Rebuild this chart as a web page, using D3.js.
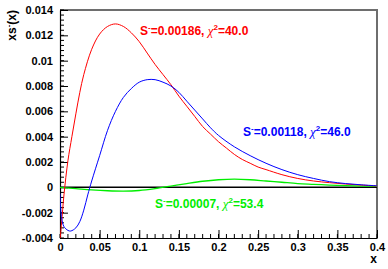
<!DOCTYPE html>
<html><head><meta charset="utf-8">
<script src="https://cdn.jsdelivr.net/npm/d3@7"></script>
<style>body{margin:0;background:#fff}svg{display:block}</style>
</head><body>
<script>
const xRed   = [0,0.002,0.005,0.01,0.015,0.02,0.025,0.03,0.04,0.05,0.06,0.07,0.08,0.09,0.10,0.11,0.12,0.13,0.14,0.15,0.16,0.17,0.18,0.19,0.20,0.21,0.22,0.23,0.24,0.25,0.26,0.28,0.30,0.32,0.34,0.36,0.38,0.40];
const yRed   = [-0.0042,-0.0028,-0.0006,0.0021,0.0040,0.0058,0.0075,0.0089,0.0109,0.0121,0.0127,0.0129,0.0127,0.0122,0.0115,0.0106,0.0097,0.0089,0.0081,0.0072,0.0064,0.0056,0.0048,0.0042,0.0036,0.0031,0.0026,0.0022,0.0019,0.0016,0.0014,0.0010,0.0007,0.0005,0.00037,0.00026,0.00018,0.0001];
const xBlue  = [0,0.002,0.005,0.01,0.0135,0.02,0.025,0.03,0.035,0.04,0.05,0.06,0.07,0.08,0.09,0.10,0.11,0.12,0.13,0.14,0.15,0.16,0.17,0.18,0.19,0.20,0.22,0.24,0.26,0.28,0.30,0.32,0.34,0.36,0.38,0.40];
const yBlue  = [-0.0005,-0.0024,-0.0031,-0.0034,-0.00345,-0.0032,-0.0027,-0.0018,-0.0006,0.0005,0.0025,0.0045,0.0060,0.0071,0.0078,0.0083,0.0085,0.0085,0.0083,0.0080,0.0075,0.0068,0.0061,0.0054,0.0047,0.0041,0.0032,0.0025,0.0019,0.0014,0.0010,0.0007,0.00045,0.0003,0.0002,0.00012];
const xGreen = [0,0.02,0.04,0.06,0.08,0.10,0.12,0.14,0.16,0.18,0.20,0.22,0.24,0.26,0.28,0.30,0.32,0.34,0.36,0.38,0.40];
const yGreen = [0,-0.0001,-0.0002,-0.00027,-0.0003,-0.00025,-0.0001,0.0001,0.0003,0.00048,0.0006,0.00065,0.0006,0.0005,0.0004,0.0003,0.00024,0.00018,0.00013,0.0001,0.00008];
const xTicks = [0,0.05,0.1,0.15,0.2,0.25,0.3,0.35,0.4];
const xTickLabels = ["0","0.05","0.1","0.15","0.2","0.25","0.3","0.35","0.4"];
const yTicks = [-0.004,-0.002,0,0.002,0.004,0.006,0.008,0.01,0.012,0.014];
const yTickLabels = ["-0.004","-0.002","0","0.002","0.004","0.006","0.008","0.01","0.012","0.014"];
const labels = [
  {s:"0.00186", c:"40.0", color:"#ff0000"},
  {s:"0.00118", c:"46.0", color:"#0000ff"},
  {s:"0.00007", c:"53.4", color:"#00ee00"}
];

const W=388,H=269, L=60,R=377,T=10,B=238;
const svg=d3.select("body").append("svg").attr("width",W).attr("height",H)
  .style("font-family","'Liberation Sans',Arial,Helvetica,sans-serif").style("font-weight","bold");
const x=d3.scaleLinear().domain([0,0.4]).range([L,R]);
const y=d3.scaleLinear().domain([-0.004,0.014]).range([B,T]);

svg.append("defs").append("clipPath").attr("id","clip").append("rect")
  .attr("x",L).attr("y",T).attr("width",R-L).attr("height",B-T);

svg.append("line").attr("x1",L).attr("x2",R+1).attr("y1",T).attr("y2",T).attr("stroke","#6e6e6e").attr("stroke-width",2);
svg.append("line").attr("x1",R).attr("x2",R).attr("y1",T).attr("y2",B).attr("stroke","#6e6e6e").attr("stroke-width",2);

const xMinor=d3.range(0,0.4001,0.01);
svg.append("g").selectAll("line").data(xMinor).join("line")
  .attr("x1",d=>x(d)).attr("x2",d=>x(d)).attr("y1",B).attr("y2",B-4).attr("stroke","#000");
const yMinor=d3.range(-0.004,0.01401,0.0004);
svg.append("g").selectAll("line").data(yMinor).join("line")
  .attr("x1",L).attr("x2",L+4).attr("y1",d=>y(d)).attr("y2",d=>y(d)).attr("stroke","#000");

const xAxis=d3.axisBottom(x).tickValues(xTicks).tickFormat((d,i)=>xTickLabels[i]).tickSizeInner(-8).tickSizeOuter(0).tickPadding(12);
const gx=svg.append("g").attr("transform",`translate(0,${B})`).call(xAxis);
const yAxis=d3.axisLeft(y).tickValues(yTicks).tickFormat((d,i)=>yTickLabels[i]).tickSizeInner(-8).tickSizeOuter(0).tickPadding(15);
const gy=svg.append("g").attr("transform",`translate(${L},0)`).call(yAxis);
[gx,gy].forEach(g=>{
  g.select(".domain").attr("stroke","#000").attr("stroke-width",1.2);
  g.selectAll(".tick line").attr("stroke","#000");
  g.selectAll(".tick text").attr("fill","#000").style("font-size","11px").style("font-family","'Liberation Sans',Arial,sans-serif").style("font-weight","bold");
});
gy.selectAll(".tick text").attr("x",-7);
gx.selectAll(".tick text").attr("y",5);

svg.append("line").attr("x1",L).attr("x2",R).attr("y1",y(0)).attr("y2",y(0)).attr("stroke","#000").attr("stroke-width",1.5);

const line=d3.line().x(d=>x(d[0])).y(d=>y(d[1])).curve(d3.curveCatmullRom.alpha(0.5));
const series=[[xGreen,yGreen,"#00ee00",1.3],[xRed,yRed,"#ff0000",1],[xBlue,yBlue,"#0000ff",1]];
const gc=svg.append("g").attr("clip-path","url(#clip)");
series.forEach(([xs,ys,c,w])=>{
  gc.append("path").datum(xs.map((v,i)=>[v,ys[i]])).attr("d",line)
    .attr("fill","none").attr("stroke",c).attr("stroke-width",w);
});

const pos=[[140,35],[243,136],[155,208]];
labels.forEach((lb,i)=>{
  const t=svg.append("text").attr("x",pos[i][0]).attr("y",pos[i][1]).attr("fill",lb.color).style("font-size","12px");
  t.append("tspan").text("S");
  t.append("tspan").text("-").attr("dy",-5).style("font-size","8px");
  t.append("tspan").text("=" + lb.s + ", ").attr("dy",5);
  t.append("tspan").text("χ").style("font-family","'Liberation Serif',serif").style("font-style","italic").style("font-weight","normal").style("font-size","13px");
  t.append("tspan").text("2").attr("dy",-5).style("font-size","8px");
  t.append("tspan").text("=" + lb.c).attr("dy",5);
});

svg.append("text").attr("x",R).attr("y",263).attr("text-anchor","end").style("font-size","12px").text("x");
const yt=svg.append("text").attr("transform",`translate(16,${T}) rotate(-90)`).attr("text-anchor","end").style("font-size","12px");
yt.append("tspan").text("xs");
yt.append("tspan").text("-").attr("dy",-5).style("font-size","8px");
yt.append("tspan").text("(x)").attr("dy",5);
</script>
</body></html>
